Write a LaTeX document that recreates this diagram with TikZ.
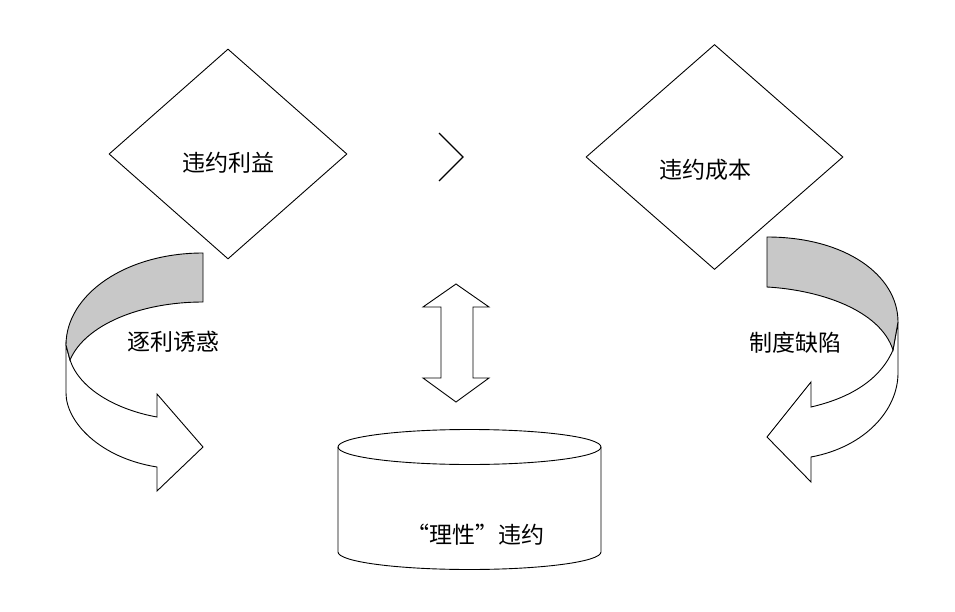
\documentclass[tikz,border=0pt]{standalone}
\usepackage{fontspec}
\newfontfamily\cjk{Noto Sans CJK SC}
\usetikzlibrary{shapes.geometric}
\definecolor{bandgray}{RGB}{200,200,200}
\begin{document}
\begin{tikzpicture}[x=1pt,y=-1pt,
  outline/.style={draw=black,line width=0.9pt,line join=miter},
  whiteshape/.style={outline,fill=white},
  grayshape/.style={outline,fill=bandgray},
  lbl/.style={font=\cjk\fontsize{23}{26}\selectfont,inner sep=0pt}]
\useasboundingbox (0,0) rectangle (955,612);
\fill[white] (0,0) rectangle (955,612);

% diamonds
\node[diamond,whiteshape,minimum width=238pt,minimum height=210pt,inner sep=0pt] (benefit) at (228,154) {};
\node[lbl] (benefitT) at (228,163) {违约利益};
\node[diamond,whiteshape,minimum width=257pt,minimum height=225pt,inner sep=0pt] (cost) at (714.5,157) {};
\node[lbl] (costT) at (705,170) {违约成本};

% greater-than chevron
\coordinate (gtA) at (439,133);
\coordinate (gtB) at (463,157);
\coordinate (gtC) at (439,181);
\draw[line width=1.3pt] (gtA) -- (gtB) -- (gtC);

% double arrow
\draw[whiteshape] (456,284) -- (489,307) -- (473,307) -- (473,378) -- (489,378) -- (456,402)
  -- (423,378) -- (441,378) -- (441,307) -- (423,307) -- cycle;

% cylinder
\fill[white] (338,447) -- (338,552) arc[start angle=180,end angle=360,x radius=131.5pt,y radius=17.5pt] -- (601,447) -- cycle;
\draw[outline] (338,447) -- (338,552) arc[start angle=180,end angle=360,x radius=131.5pt,y radius=17.5pt] -- (601,447);
\draw[outline] (469.5,447) ellipse [x radius=131.5pt,y radius=17.5pt];
\node[lbl] (rational) at (475,535) {“理性”违约};

% left curved arrow
\draw[whiteshape] (66,345) -- (66,393) .. controls (66,422) and (100,458) .. (157,467) -- (157,491) -- (203,447)
  -- (157,394) -- (157,417) .. controls (118,410) and (80,390) .. (70,360) -- cycle;
\draw[grayshape] (203,253) .. controls (125,253) and (66,295) .. (66,345) -- (70,360)
  .. controls (85,325) and (140,302) .. (203,302) -- cycle;
\node[lbl] (greed) at (173,342) {逐利诱惑};

% right curved arrow
\draw[whiteshape] (898,322) -- (898,373) .. controls (898,410) and (865,447) .. (811,457) -- (811,482) -- (767,437)
  -- (811,382) -- (811,407) .. controls (850,398) and (880,380) .. (893,350) -- cycle;
\draw[grayshape] (767,237) .. controls (845,237) and (898,275) .. (898,322) -- (893,350)
  .. controls (880,310) and (820,290) .. (767,287) -- cycle;
\node[lbl] (defect) at (795,343) {制度缺陷};
\end{tikzpicture}
\end{document}
